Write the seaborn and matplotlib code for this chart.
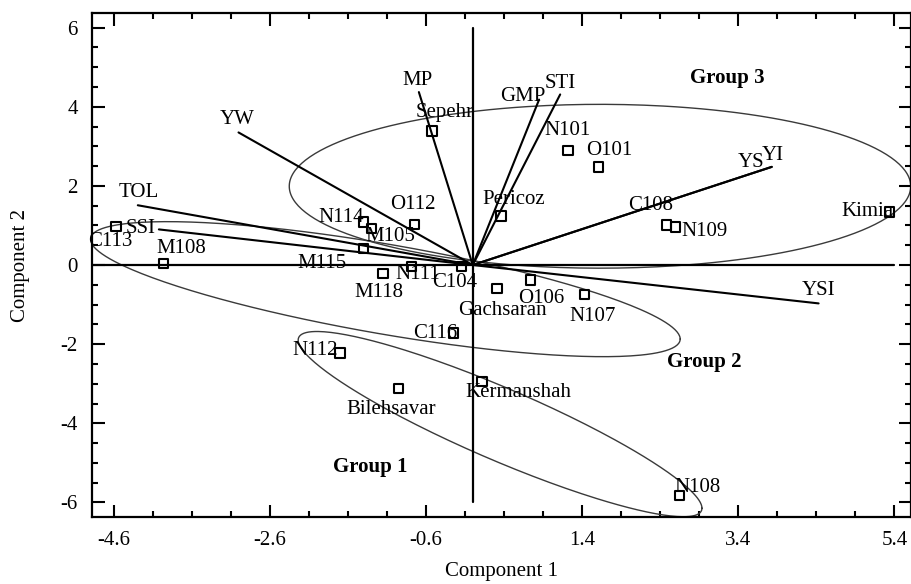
import numpy as np
import pandas as pd
import matplotlib
matplotlib.use("Agg")
import matplotlib.pyplot as plt
import seaborn as sns

# genotype scores (Component 1, Component 2)
genotypes = ["C113", "M108", "N114", "M105", "O112", "M115", "M118", "N111",
             "C104", "Gachsaran", "O106", "N107", "C116", "N112", "Kermanshah",
             "Bilehsavar", "N108", "Sepehr", "N101", "O101", "Pericoz", "C108",
             "N109", "Kimia"]
pc1 = [-4.57, -3.96, -1.40, -1.30, -0.75, -1.40, -1.15, -0.78,
       -0.14, 0.31, 0.74, 1.43, -0.25, -1.70, 0.12,
       -0.95, 2.65, -0.52, 1.22, 1.61, 0.36, 2.48,
       2.60, 5.34]
pc2 = [0.98, 0.04, 1.09, 0.92, 1.03, 0.42, -0.21, -0.03,
       -0.03, -0.59, -0.38, -0.74, -1.72, -2.22, -2.95,
       -3.12, -5.83, 3.39, 2.90, 2.48, 1.24, 1.01,
       0.96, 1.34]

# index vectors
indices = ["YW", "TOL", "SSI", "MP", "GMP", "STI", "YS", "YI", "YSI"]
vec_x = [-3.00, -4.29, -4.02, -0.69, 0.85, 1.12, 3.83, 3.83, 4.43]
vec_y = [3.35, 1.51, 0.90, 4.37, 4.18, 4.31, 2.48, 2.48, -0.97]

# group ellipses: centre and two conjugate half-axes
groups = ["Group 1", "Group 2", "Group 3"]
ell_center = [(0.35, -4.02), (-1.12, -0.61), (1.63, 1.99)]
ell_axis_a = [(2.586, -2.123), (3.777, -1.26), (3.98, 0.0)]
ell_axis_b = [(0.0, 0.985), (0.0, 1.15), (0.0, 2.07)]
group_label_pos = [(-1.31, -5.11), (2.97, -2.46), (3.26, 4.72)]

# label offsets in points
geno_off = {"C113": (-4, -11), "M108": (13, 11), "N114": (-16, 3), "M105": (14, -6),
            "O112": (-1, 14), "M115": (-30, -11), "M118": (-3, -14), "N111": (4, -6),
            "C104": (-5, -12), "Gachsaran": (4, -16), "O106": (8, -13), "N107": (6, -16),
            "C116": (-13, 0), "N112": (-18, 2), "Kermanshah": (26, -8),
            "Bilehsavar": (-5, -15), "N108": (13, 6), "Sepehr": (9, 13), "N101": (0, 14),
            "O101": (8, 12), "Pericoz": (9, 12), "C108": (-11, 14), "N109": (21, -3),
            "Kimia": (-16, 0)}
vec_off = {"YW": (-1, 9), "TOL": (1, 9), "SSI": (-13, 1), "MP": (-1, 8), "GMP": (-12, 2),
           "STI": (0, 8), "YS": (-15, 3), "YI": (1, 8), "YSI": (0, 9)}

sns.set_theme(style="ticks")
plt.rcParams["font.family"] = ["Liberation Serif", "DejaVu Serif"]
plt.rcParams["axes.linewidth"] = 1.6

fig = plt.figure(figsize=(9.11, 5.84), dpi=100)
ax = fig.add_axes([0.1007, 0.1152, 0.899, 0.862])

xmin, xmax = -4.88, 5.61
ymin, ymax = -6.36, 6.36

# axis cross
ax.plot([xmin, 5.4], [0, 0], color="black", lw=1.6, zorder=2)
ax.plot([0, 0], [-6, 6], color="black", lw=1.6, zorder=2)

# ellipses
t = np.linspace(0, 2 * np.pi, 300)
for c, a, b in zip(ell_center, ell_axis_a, ell_axis_b):
    ex = c[0] + a[0] * np.cos(t) + b[0] * np.sin(t)
    ey = c[1] + a[1] * np.cos(t) + b[1] * np.sin(t)
    ax.plot(ex, ey, color="#3a3a3a", lw=1.0, zorder=1)

# vectors
for name, vx, vy in zip(indices, vec_x, vec_y):
    ax.plot([0, vx], [0, vy], color="black", lw=1.5, zorder=3)
    ax.annotate(name, (vx, vy), xytext=vec_off[name], textcoords="offset points",
                ha="center", va="center", fontsize=15, color="black")

df = pd.DataFrame({"Component 1": pc1, "Component 2": pc2, "name": genotypes})
sns.scatterplot(data=df, x="Component 1", y="Component 2", marker="s", s=45,
                facecolor="none", edgecolor="black", linewidth=1.5, ax=ax, zorder=4)

for name, x, y in zip(genotypes, pc1, pc2):
    ax.annotate(name, (x, y), xytext=geno_off[name], textcoords="offset points",
                ha="center", va="center", fontsize=15, color="black")

for g, (gx, gy) in zip(groups, group_label_pos):
    ax.text(gx, gy, g, ha="center", va="center", fontsize=15, fontweight="bold",
            color="black")

ax.set_xlim(xmin, xmax)
ax.set_ylim(ymin, ymax)
ax.set_xticks(np.arange(-4.6, 5.5, 2.0))
ax.set_xticks(np.arange(-4.6, 5.5, 0.5), minor=True)
ax.set_yticks(np.arange(-6, 6.1, 2))
ax.set_yticks(np.arange(-6, 6.1, 0.5), minor=True)
ax.set_xticklabels(["-4.6", "-2.6", "-0.6", "1.4", "3.4", "5.4"])
ax.set_yticklabels(["-6", "-4", "-2", "0", "2", "4", "6"])
ax.tick_params(which="both", direction="in", top=True, right=True, color="black",
               labelsize=15, labelcolor="black", width=1.5)
ax.tick_params(which="major", length=9, pad=10)
ax.tick_params(which="minor", length=4)
for s in ax.spines.values():
    s.set_color("black")
    s.set_visible(True)

ax.set_xlabel("Component 1", fontsize=15, color="black", labelpad=9)
ax.set_ylabel("Component 2", fontsize=15, color="black", labelpad=22)
ax.grid(False)

fig.savefig("out.png", dpi=100)
